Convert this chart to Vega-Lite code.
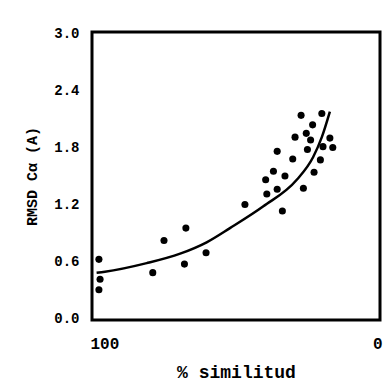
{
  "$schema": "https://vega.github.io/schema/vega-lite/v6.json",
  "width": 288,
  "height": 288,
  "autosize": "none",
  "padding": {"left": 92, "top": 32, "right": 5, "bottom": 70},
  "background": "white",
  "config": {
    "view": {"stroke": "black", "strokeWidth": 3},
    "font": "Liberation Mono",
    "axis": {"grid": false, "ticks": false, "domain": false, "labelColor": "black", "titleColor": "black", "labelFontWeight": "bold", "titleFontWeight": "bold"}
  },
  "datasets": {
    "points": [
      {"similitud": 97.6, "rmsd": 0.62},
      {"similitud": 97.2, "rmsd": 0.41},
      {"similitud": 97.6, "rmsd": 0.30},
      {"similitud": 78.9, "rmsd": 0.48},
      {"similitud": 75.0, "rmsd": 0.82},
      {"similitud": 67.9, "rmsd": 0.57},
      {"similitud": 67.4, "rmsd": 0.95},
      {"similitud": 60.4, "rmsd": 0.69},
      {"similitud": 46.9, "rmsd": 1.20},
      {"similitud": 39.7, "rmsd": 1.46},
      {"similitud": 39.3, "rmsd": 1.31},
      {"similitud": 37.0, "rmsd": 1.55},
      {"similitud": 35.7, "rmsd": 1.36},
      {"similitud": 35.7, "rmsd": 1.76},
      {"similitud": 33.9, "rmsd": 1.13},
      {"similitud": 33.0, "rmsd": 1.50},
      {"similitud": 30.3, "rmsd": 1.68},
      {"similitud": 29.5, "rmsd": 1.91},
      {"similitud": 27.4, "rmsd": 2.14},
      {"similitud": 26.6, "rmsd": 1.37},
      {"similitud": 25.6, "rmsd": 1.95},
      {"similitud": 25.2, "rmsd": 1.78},
      {"similitud": 23.4, "rmsd": 2.04},
      {"similitud": 24.1, "rmsd": 1.88},
      {"similitud": 22.9, "rmsd": 1.54},
      {"similitud": 20.7, "rmsd": 1.67},
      {"similitud": 20.2, "rmsd": 2.16},
      {"similitud": 19.8, "rmsd": 1.81},
      {"similitud": 17.4, "rmsd": 1.90},
      {"similitud": 16.4, "rmsd": 1.80}
    ],
    "curve": [
      {"similitud": 98.4, "rmsd": 0.48},
      {"similitud": 95.5, "rmsd": 0.49},
      {"similitud": 81.0, "rmsd": 0.58},
      {"similitud": 69.4, "rmsd": 0.68},
      {"similitud": 60.2, "rmsd": 0.80},
      {"similitud": 52.1, "rmsd": 0.95},
      {"similitud": 40.5, "rmsd": 1.18},
      {"similitud": 28.9, "rmsd": 1.46},
      {"similitud": 23.2, "rmsd": 1.70},
      {"similitud": 20.2, "rmsd": 1.91},
      {"similitud": 17.4, "rmsd": 2.18}
    ]
  },
  "layer": [
    {
      "data": {"name": "points"},
      "mark": {"type": "circle", "color": "black", "opacity": 1, "size": 50},
      "encoding": {
        "x": {
          "field": "similitud", "type": "quantitative",
          "scale": {"domain": [0, 100], "reverse": true, "nice": false},
          "axis": {"values": [0, 100], "labelFlush": true, "labelFlushOffset": 2, "labelFontSize": 16, "labelPadding": 15, "title": "% similitud", "titleFontSize": 18, "titlePadding": 12}
        },
        "y": {
          "field": "rmsd", "type": "quantitative",
          "scale": {"domain": [-0.02, 3.02], "nice": false, "zero": false},
          "axis": {"values": [0, 0.6, 1.2, 1.8, 2.4, 3.0], "format": ".1f", "labelFontSize": 14, "labelPadding": 13, "title": "RMSD Cα  (A)", "titleFontSize": 15, "titlePadding": 14}
        }
      }
    },
    {
      "data": {"name": "curve"},
      "mark": {"type": "line", "color": "black", "strokeWidth": 2.5, "interpolate": "monotone"},
      "encoding": {
        "x": {"field": "similitud", "type": "quantitative"},
        "y": {"field": "rmsd", "type": "quantitative"}
      }
    }
  ]
}
